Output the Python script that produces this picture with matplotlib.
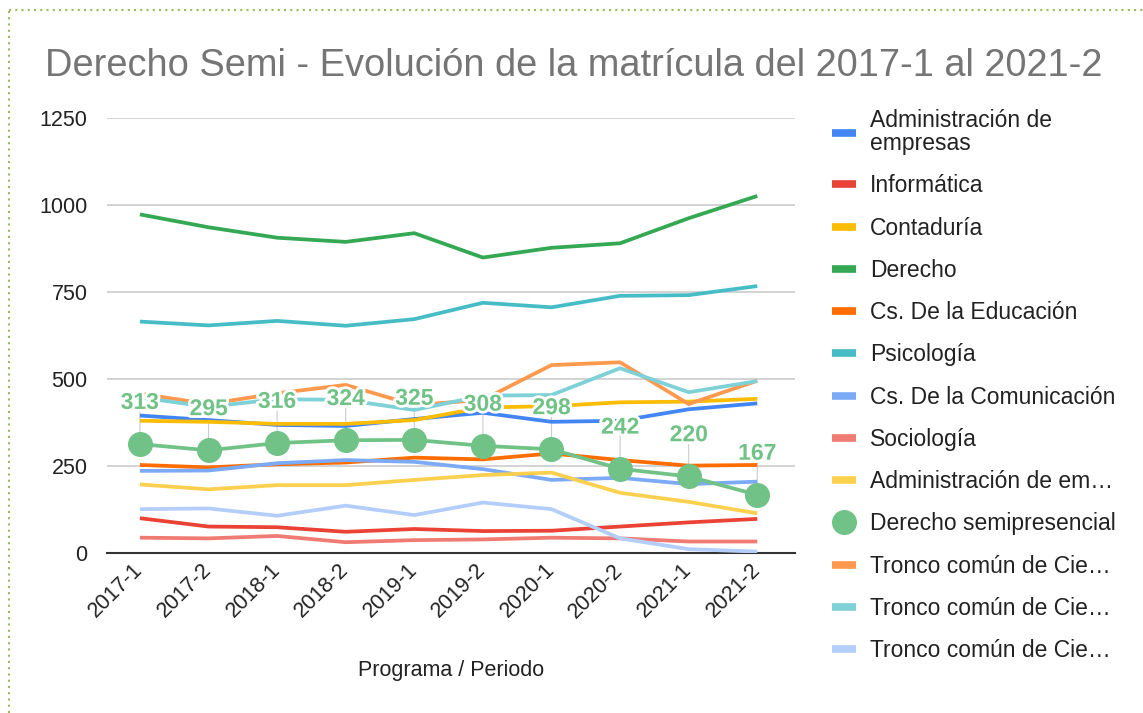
import matplotlib.pyplot as plt
import matplotlib.patheffects as pe
import matplotlib.transforms as mtransforms
from matplotlib.lines import Line2D

plt.rcParams['font.family'] = ['Liberation Sans', 'DejaVu Sans']

periodos = ['2017-1', '2017-2', '2018-1', '2018-2', '2019-1',
            '2019-2', '2020-1', '2020-2', '2021-1', '2021-2']

admin_empresas = [395, 382, 368, 365, 385, 403, 377, 380, 413, 430]
informatica = [100, 76, 74, 61, 69, 63, 64, 76, 88, 98]
contaduria = [380, 377, 371, 371, 382, 418, 422, 433, 435, 443]
derecho = [973, 936, 906, 894, 919, 849, 877, 890, 962, 1026]
educacion = [253, 246, 255, 260, 274, 269, 286, 267, 251, 253]
psicologia = [665, 654, 667, 653, 672, 719, 706, 739, 741, 767]
comunicacion = [236, 237, 258, 267, 262, 241, 210, 216, 198, 205]
sociologia = [44, 42, 49, 31, 37, 39, 44, 42, 33, 33]
admin_em_2 = [197, 183, 195, 195, 210, 224, 231, 173, 147, 114]
derecho_semi = [313, 295, 316, 324, 325, 308, 298, 242, 220, 167]
tronco_1 = [458, 428, 459, 483, 425, 440, 540, 548, 428, 495]
tronco_2 = [447, 420, 442, 440, 411, 452, 454, 531, 462, 494]
tronco_3 = [126, 128, 107, 136, 109, 145, 126, 42, 11, 4]

series = [
    ('Administración de\nempresas', admin_empresas, '#4285F4'),
    ('Informática', informatica, '#EA4335'),
    ('Contaduría', contaduria, '#FBBC04'),
    ('Derecho', derecho, '#34A853'),
    ('Cs. De la Educación', educacion, '#FF6D01'),
    ('Psicología', psicologia, '#46BDC6'),
    ('Cs. De la Comunicación', comunicacion, '#7BAAF7'),
    ('Sociología', sociologia, '#F07B72'),
    ('Administración de em…', admin_em_2, '#FCD04F'),
    ('Derecho semipresencial', derecho_semi, '#71C287'),
    ('Tronco común de Cie…', tronco_1, '#FF994D'),
    ('Tronco común de Cie…', tronco_2, '#7ED1D7'),
    ('Tronco común de Cie…', tronco_3, '#B3CEFB'),
]

fig = plt.figure(figsize=(11.43, 7.13), dpi=100)
ax = fig.add_axes([107 / 1143, 1 - 553 / 713, 688 / 1143, 435 / 713])

x = list(range(len(periodos)))
handles = []
for i, (name, vals, col) in enumerate(series):
    if name == 'Derecho semipresencial':
        ax.plot(x, vals, color=col, lw=2.7, marker='o', ms=17, zorder=3 + i * 0.1)
        handles.append(Line2D([], [], color=col, lw=0, marker='o', ms=17))
    else:
        ax.plot(x, vals, color=col, lw=2.7, zorder=3 + i * 0.1, solid_capstyle='butt')
        handles.append(Line2D([], [], color=col, lw=5.5, solid_capstyle='butt'))

# etiquetas de Derecho semipresencial con linea guia
for xi, v in zip(x, derecho_semi):
    ax.annotate('', xy=(xi, v), xytext=(0, 24), textcoords='offset points',
                arrowprops=dict(arrowstyle='-', color='#cccccc', lw=0.8,
                                shrinkA=0, shrinkB=0), zorder=2.5)
    ax.annotate(str(v), xy=(xi, v), xytext=(0, 30), textcoords='offset points',
                ha='center', va='center', fontsize=16.5, fontweight='bold',
                color='#71C287', zorder=10,
                path_effects=[pe.withStroke(linewidth=4, foreground='white')])

ax.set_xlim(-0.48, 9.55)
ax.set_ylim(0, 1250)
ax.set_yticks([0, 250, 500, 750, 1000, 1250])
ax.set_xticks(x)
ax.set_xticklabels(periodos, rotation=45, ha='right', va='center',
                   rotation_mode='anchor', fontsize=15.5, color='#222222')
shift = mtransforms.ScaledTranslation(10 / 100, -7 / 100, fig.dpi_scale_trans)
for lab in ax.get_xticklabels():
    lab.set_transform(lab.get_transform() + shift)
ax.tick_params(axis='y', length=0, pad=14, labelsize=15.5, labelcolor='#222222')
ax.tick_params(axis='x', length=0, pad=10)
ax.grid(axis='y', color='#cccccc', lw=1.2)
ax.set_axisbelow(True)
for s in ['top', 'right', 'left']:
    ax.spines[s].set_visible(False)
ax.spines['bottom'].set_color('#333333')
ax.spines['bottom'].set_linewidth(1.5)
ax.spines['bottom'].set_zorder(2)
ax.set_xlabel('Programa / Periodo', fontsize=15.5, color='#222222', labelpad=27)

fig.text(45 / 1143, 1 - 76 / 713,
         'Derecho Semi - Evolución de la matrícula del 2017-1 al 2021-2',
         fontsize=27.4, color='#757575', va='baseline')

leg = ax.legend(handles, [s[0] for s in series], loc='upper left',
                bbox_to_anchor=(823 / 1143, 1 - 100 / 713), bbox_transform=fig.transFigure,
                frameon=False, fontsize=16.5, handlelength=1.05, handletextpad=0.6,
                labelspacing=0.84, borderaxespad=0, labelcolor='#222222')
for t in leg.get_texts():
    t.set_linespacing(1.0)

# borde punteado
fig.add_artist(Line2D([9 / 1143, 1], [1 - 10 / 713, 1 - 10 / 713], color='#9BBB59',
                      lw=1.5, ls=(0, (1, 2)), transform=fig.transFigure))
fig.add_artist(Line2D([9 / 1143, 9 / 1143], [0, 1 - 10 / 713], color='#9BBB59',
                      lw=1.5, ls=(0, (1, 2)), transform=fig.transFigure))

plt.savefig('out.png', dpi=100)
